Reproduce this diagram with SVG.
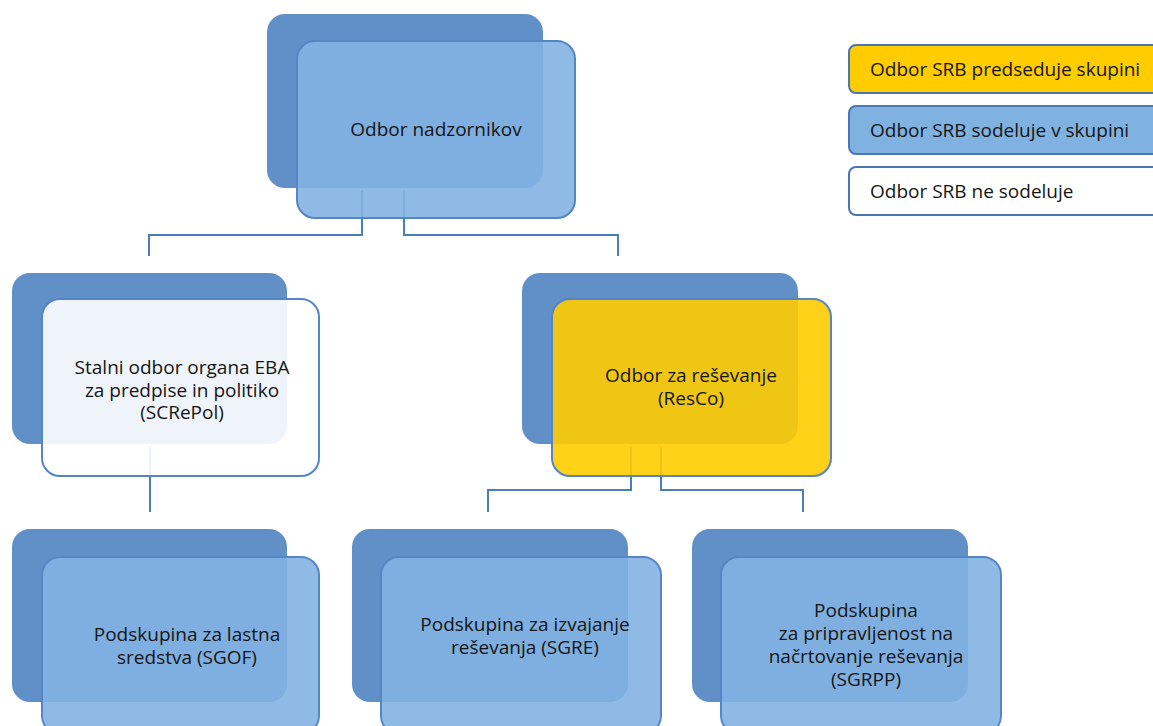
<svg xmlns="http://www.w3.org/2000/svg" width="1153" height="726" viewBox="0 0 1153 726">
<style>
.back{fill:#6190C9;}
.front{stroke:#5585C5;stroke-width:2;}
.blue{fill:#82B3E2;fill-opacity:0.9;}
.yellow{fill:#FFCC00;fill-opacity:0.9;}
.white{fill:#FFFFFF;fill-opacity:0.9;}
.conn{fill:none;stroke:#4A7EBB;stroke-width:2;}
text{font-family:"Open Sans","Noto Sans","DejaVu Sans",sans-serif;font-size:19px;fill:#151515;}
.c{text-anchor:middle;}
.leg{stroke:#4A77B4;stroke-width:2;}
</style>
<rect width="1153" height="726" fill="#FFFFFF"/>
<g id="connectors">
<path class="conn" d="M362 191 V235 H149 V256"/>
<path class="conn" d="M404 191 V235 H618 V256"/>
<path class="conn" d="M150 447 V512"/>
<path class="conn" d="M631 447 V490 H488 V512"/>
<path class="conn" d="M661 447 V490 H803 V512"/>
</g>
<g id="node-nadzorniki">
<rect class="back" x="267" y="14" width="276" height="174" rx="18"/>
<rect class="front blue" x="297" y="41" width="278" height="177" rx="18"/>
<text class="c" x="436" y="136">Odbor nadzornikov</text>
</g>
<g id="node-screpol">
<rect class="back" x="12" y="273" width="275" height="171" rx="18"/>
<rect class="front white" x="42" y="299" width="277" height="177" rx="18"/>
<text class="c" x="182" y="374">Stalni odbor organa EBA</text>
<text class="c" x="182" y="397">za predpise in politiko</text>
<text class="c" x="182" y="419">(SCRePol)</text>
</g>
<g id="node-resco">
<rect class="back" x="522" y="273" width="276" height="171" rx="18"/>
<rect class="front yellow" x="552" y="299" width="279" height="177" rx="18"/>
<text class="c" x="691" y="382">Odbor za reševanje</text>
<text class="c" x="691" y="405">(ResCo)</text>
</g>
<g id="node-sgof">
<rect class="back" x="12" y="529" width="275" height="173" rx="18"/>
<rect class="front blue" x="42" y="557" width="277" height="177" rx="18"/>
<text class="c" x="187" y="641">Podskupina za lastna</text>
<text class="c" x="187" y="664">sredstva (SGOF)</text>
</g>
<g id="node-sgre">
<rect class="back" x="352" y="529" width="276" height="173" rx="18"/>
<rect class="front blue" x="381" y="557" width="280" height="177" rx="18"/>
<text class="c" x="525" y="631">Podskupina za izvajanje</text>
<text class="c" x="525" y="654">reševanja (SGRE)</text>
</g>
<g id="node-sgrpp">
<rect class="back" x="692" y="529" width="276" height="173" rx="18"/>
<rect class="front blue" x="721" y="557" width="280" height="177" rx="18"/>
<text class="c" x="866" y="617">Podskupina</text>
<text class="c" x="866" y="640">za pripravljenost na</text>
<text class="c" x="866" y="663">načrtovanje reševanja</text>
<text class="c" x="866" y="686">(SGRPP)</text>
</g>
<g id="legend-predseduje">
<rect class="leg" x="849" y="45" width="320" height="48" rx="7" fill="#FFCC00"/>
<text x="870" y="76">Odbor SRB predseduje skupini</text>
</g>
<g id="legend-sodeluje">
<rect class="leg" x="849" y="106" width="320" height="48" rx="7" fill="#7FB2E1"/>
<text x="870" y="137">Odbor SRB sodeluje v skupini</text>
</g>
<g id="legend-ne-sodeluje">
<rect class="leg" x="849" y="167" width="320" height="48" rx="7" fill="#FFFFFF"/>
<text x="870" y="198">Odbor SRB ne sodeluje</text>
</g>
</svg>
